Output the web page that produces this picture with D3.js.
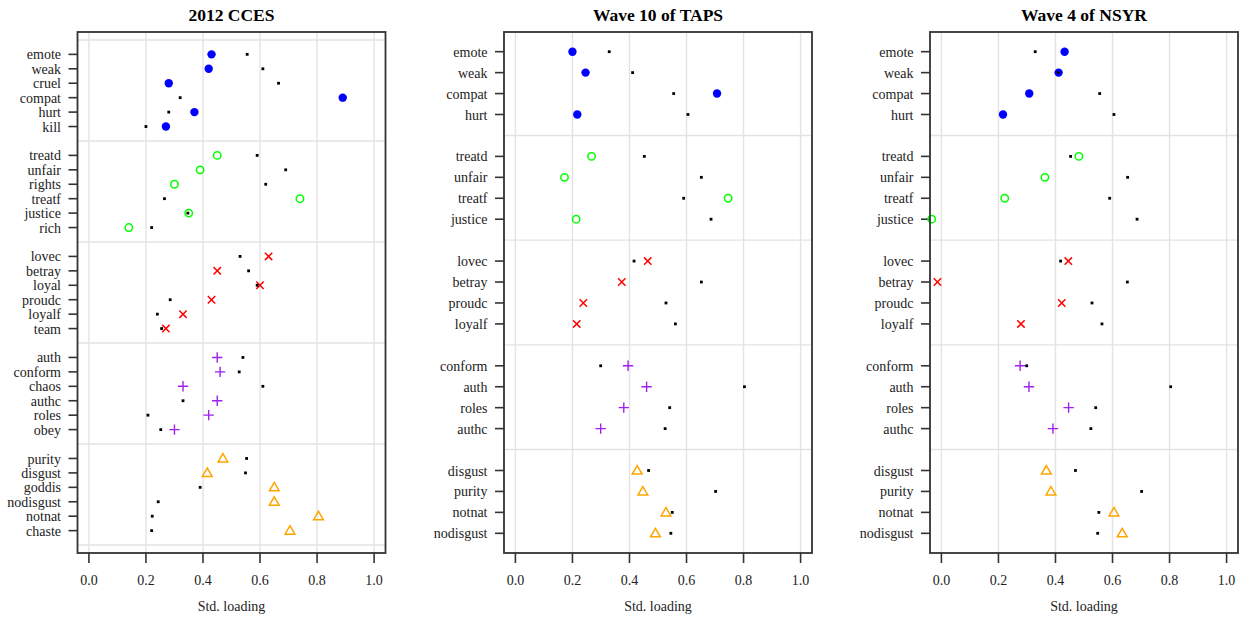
<!DOCTYPE html>
<html>
<head>
<meta charset="utf-8">
<script src="https://cdn.jsdelivr.net/npm/d3@7"></script>
<style>
  body { margin: 0; background: #fff; }
</style>
</head>
<body>
<svg id="chart" width="1241" height="624" font-family="'Liberation Serif', 'Times New Roman', serif"></svg>
<script>
// ---- data ----
const panelTitles = ["2012 CCES", "Wave 10 of TAPS", "Wave 4 of NSYR"];
const xTicks = [0, 0.2, 0.4, 0.6, 0.8, 1.0];

// CCES: six items per foundation
const ccesItems = [
  ["emote", "weak", "cruel", "compat", "hurt", "kill"],
  ["treatd", "unfair", "rights", "treatf", "justice", "rich"],
  ["lovec", "betray", "loyal", "proudc", "loyalf", "team"],
  ["auth", "conform", "chaos", "authc", "roles", "obey"],
  ["purity", "disgust", "goddis", "nodisgust", "notnat", "chaste"]
];
const ccesLoadings = [
  [0.43, 0.42, 0.28, 0.89, 0.37, 0.27],
  [0.45, 0.39, 0.30, 0.74, 0.35, 0.14],
  [0.63, 0.45, 0.60, 0.43, 0.33, 0.27],
  [0.45, 0.46, 0.33, 0.45, 0.42, 0.30],
  [0.47, 0.415, 0.65, 0.65, 0.805, 0.705]
];
const ccesReference = [
  [0.555, 0.61, 0.665, 0.32, 0.28, 0.20],
  [0.59, 0.69, 0.62, 0.265, 0.347, 0.22],
  [0.53, 0.56, 0.59, 0.285, 0.24, 0.255],
  [0.54, 0.527, 0.61, 0.33, 0.207, 0.252],
  [0.553, 0.549, 0.39, 0.243, 0.222, 0.22]
];

// TAPS: four items per foundation
const tapsItems = [
  ["emote", "weak", "compat", "hurt"],
  ["treatd", "unfair", "treatf", "justice"],
  ["lovec", "betray", "proudc", "loyalf"],
  ["conform", "auth", "roles", "authc"],
  ["disgust", "purity", "notnat", "nodisgust"]
];
const tapsLoadings = [
  [0.20, 0.246, 0.707, 0.217],
  [0.267, 0.172, 0.746, 0.213],
  [0.464, 0.373, 0.238, 0.215],
  [0.395, 0.46, 0.38, 0.299],
  [0.427, 0.447, 0.528, 0.491]
];
const tapsReference = [
  [0.329, 0.411, 0.555, 0.605],
  [0.452, 0.652, 0.59, 0.686],
  [0.416, 0.652, 0.528, 0.561],
  [0.299, 0.803, 0.541, 0.525],
  [0.467, 0.702, 0.55, 0.545]
];

// NSYR: same items as TAPS
const nsyrItems = tapsItems;
const nsyrLoadings = [
  [0.432, 0.411, 0.308, 0.216],
  [0.482, 0.363, 0.222, -0.034],
  [0.445, -0.014, 0.422, 0.279],
  [0.276, 0.307, 0.446, 0.391],
  [0.368, 0.384, 0.605, 0.634]
];
const nsyrReference = [
  [0.329, 0.41, 0.555, 0.605],
  [0.453, 0.653, 0.59, 0.686],
  [0.418, 0.652, 0.528, 0.563],
  [0.299, 0.804, 0.541, 0.524],
  [0.47, 0.702, 0.552, 0.548]
];

// one colour / symbol per foundation
const groupColors = ["#0000ff", "#00ff00", "#ff0000", "#a020f0", "#ffa500"];
const groupShapes = ["dot", "ring", "cross", "plus", "triangle"];

const panels = [
  { title: panelTitles[0], items: ccesItems, loadings: ccesLoadings, reference: ccesReference, yPad: 0.55 },
  { title: panelTitles[1], items: tapsItems, loadings: tapsLoadings, reference: tapsReference, yPad: -0.06 },
  { title: panelTitles[2], items: nsyrItems, loadings: nsyrLoadings, reference: nsyrReference, yPad: -0.06 }
];

// ---- layout ----
const svg = d3.select("#chart");
const boxTop = 32, boxBottom = 553, boxWidth = 308;
const panelLefts = [77.5, 504, 930];

const drawMarker = (g, shape, color, x, y) => {
  if (shape === "dot") {
    g.append("circle").attr("cx", x).attr("cy", y).attr("r", 4.2).attr("fill", color);
  } else if (shape === "ring") {
    g.append("circle").attr("cx", x).attr("cy", y).attr("r", 3.7)
      .attr("fill", "none").attr("stroke", color).attr("stroke-width", 1.5);
  } else if (shape === "cross") {
    const s = 3.7;
    g.append("path").attr("d", `M${x - s},${y - s}L${x + s},${y + s}M${x - s},${y + s}L${x + s},${y - s}`)
      .attr("stroke", color).attr("stroke-width", 1.5);
  } else if (shape === "plus") {
    const s = 5.2;
    g.append("path").attr("d", `M${x - s},${y}L${x + s},${y}M${x},${y - s}L${x},${y + s}`)
      .attr("stroke", color).attr("stroke-width", 1.4);
  } else if (shape === "triangle") {
    const s = 4.9;
    g.append("path").attr("d", `M${x},${y - s}L${x + s},${y + s * 0.72}L${x - s},${y + s * 0.72}Z`)
      .attr("fill", "none").attr("stroke", color).attr("stroke-width", 1.5);
  }
};

panels.forEach((p, pi) => {
  const left = panelLefts[pi];
  const perGroup = p.items[0].length + 1;
  const nUnits = p.items.length * perGroup;

  const x = d3.scaleLinear().domain([-0.04, 1.04]).range([left, left + boxWidth]);
  const y = d3.scaleLinear().domain([-p.yPad, nUnits + p.yPad]).range([boxTop, boxBottom]);

  const g = svg.append("g");
  const clipId = "clip" + pi;
  g.append("clipPath").attr("id", clipId).append("rect")
    .attr("x", left).attr("y", boxTop).attr("width", boxWidth).attr("height", boxBottom - boxTop);

  // grid
  const grid = g.append("g").attr("clip-path", `url(#${clipId})`);
  grid.selectAll(".vgrid").data(xTicks).join("line")
    .attr("x1", d => x(d)).attr("x2", d => x(d))
    .attr("y1", boxTop).attr("y2", boxBottom)
    .attr("stroke", "#e3e3e3").attr("stroke-width", 1.4);
  grid.selectAll(".hgrid").data(d3.range(p.items.length + 1)).join("line")
    .attr("x1", left).attr("x2", left + boxWidth)
    .attr("y1", d => y(d * perGroup)).attr("y2", d => y(d * perGroup))
    .attr("stroke", "#e3e3e3").attr("stroke-width", 1.4);

  // rows
  const rows = [];
  p.items.forEach((grp, gi) => grp.forEach((name, ii) => rows.push({
    name, gi, pos: gi * perGroup + ii + 1,
    loading: p.loadings[gi][ii], ref: p.reference[gi][ii]
  })));

  // y axis ticks and labels
  const yAxis = g.append("g");
  yAxis.selectAll("line").data(rows).join("line")
    .attr("x1", left - 9).attr("x2", left)
    .attr("y1", d => y(d.pos)).attr("y2", d => y(d.pos))
    .attr("stroke", "#333").attr("stroke-width", 1.6);
  yAxis.selectAll("text").data(rows).join("text")
    .attr("x", left - 16.5).attr("y", d => y(d.pos)).attr("dy", "0.36em")
    .attr("text-anchor", "end").attr("font-size", 14).attr("fill", "#222")
    .text(d => d.name);

  // loadings
  const marks = g.append("g");
  rows.forEach(r => drawMarker(marks, groupShapes[r.gi], groupColors[r.gi], x(r.loading), y(r.pos)));

  // reference values (small black squares)
  marks.selectAll("rect.ref").data(rows).join("rect")
    .attr("x", d => x(d.ref) - 1.4).attr("y", d => y(d.pos) - 1.4)
    .attr("width", 2.8).attr("height", 2.8).attr("fill", "#000");

  // box
  g.append("rect").attr("x", left).attr("y", boxTop)
    .attr("width", boxWidth).attr("height", boxBottom - boxTop)
    .attr("fill", "none").attr("stroke", "#333").attr("stroke-width", 1.8);

  // x axis
  const xAxis = g.append("g");
  xAxis.selectAll("line").data(xTicks).join("line")
    .attr("x1", d => x(d)).attr("x2", d => x(d))
    .attr("y1", boxBottom).attr("y2", boxBottom + 10)
    .attr("stroke", "#333").attr("stroke-width", 1.6);
  xAxis.selectAll("text").data(xTicks).join("text")
    .attr("x", d => x(d)).attr("y", 580).attr("dy", "0.35em")
    .attr("text-anchor", "middle").attr("font-size", 14).attr("fill", "#222")
    .text(d => d3.format(".1f")(d));

  g.append("text").attr("x", left + boxWidth / 2).attr("y", 606).attr("dy", "0.35em")
    .attr("text-anchor", "middle").attr("font-size", 14).attr("fill", "#222")
    .text("Std. loading");

  // title
  g.append("text").attr("x", left + boxWidth / 2).attr("y", 21)
    .attr("text-anchor", "middle").attr("font-size", 17.5).attr("font-weight", "bold")
    .attr("fill", "#000").text(p.title);
});
</script>
</body>
</html>
